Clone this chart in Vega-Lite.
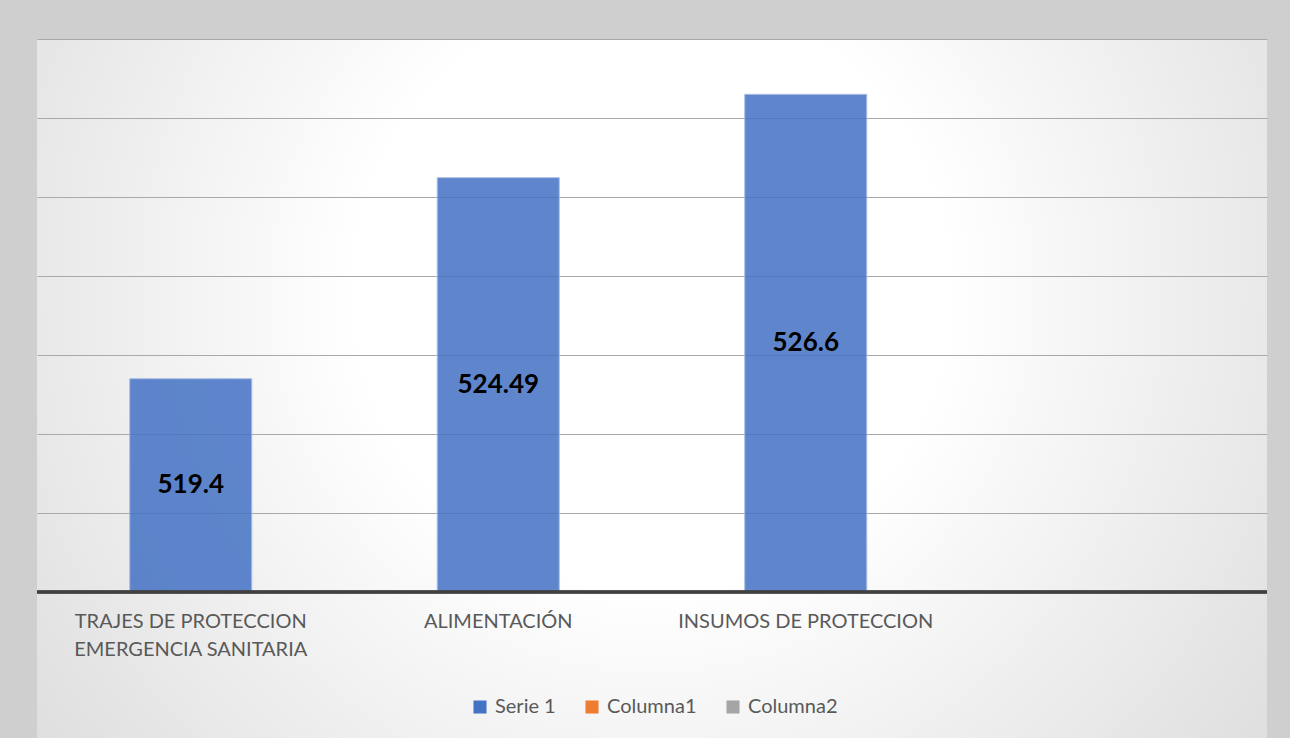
{
  "$schema": "https://vega.github.io/schema/vega-lite/v6.json",
  "width": 1230,
  "height": 699,
  "autosize": "none",
  "padding": {"left": 37, "top": 39, "right": 23, "bottom": 0},
  "background": "#cfcfcf",
  "config": {
    "font": "Lato",
    "view": {
      "stroke": null,
      "fill": {
        "gradient": "radial",
        "x1": 0.5, "y1": 0.42, "r1": 0,
        "x2": 0.5, "y2": 0.42, "r2": 0.8,
        "stops": [
          {"offset": 0, "color": "#ffffff"},
          {"offset": 0.3, "color": "#ffffff"},
          {"offset": 1, "color": "#cfcfcf"}
        ]
      }
    }
  },
  "data": {
    "values": [
      {"categoria": "TRAJES DE PROTECCION EMERGENCIA SANITARIA", "serie": "Serie 1", "valor": 519.4},
      {"categoria": "ALIMENTACIÓN", "serie": "Serie 1", "valor": 524.49},
      {"categoria": "INSUMOS DE PROTECCION", "serie": "Serie 1", "valor": 526.6}
    ]
  },
  "transform": [{"calculate": "(datum.valor + 514) / 2", "as": "medio"}],
  "layer": [
    {
      "mark": {"type": "bar", "opacity": 0.85, "stroke": "#9fb7e3", "strokeWidth": 1},
      "encoding": {
        "x": {
          "field": "categoria",
          "type": "nominal",
          "sort": null,
          "scale": {
            "domain": ["TRAJES DE PROTECCION EMERGENCIA SANITARIA", "ALIMENTACIÓN", "INSUMOS DE PROTECCION", " "],
            "paddingInner": 0.603,
            "paddingOuter": 0.3015
          },
          "axis": {
            "title": null,
            "labelAngle": 0,
            "ticks": false,
            "domain": false,
            "offset": -146,
            "labelPadding": 19,
            "labelFontSize": 20,
            "labelColor": "#595959",
            "labelLineHeight": 28,
            "labelLimit": 500,
            "labelExpr": "datum.value == 'TRAJES DE PROTECCION EMERGENCIA SANITARIA' ? ['TRAJES DE PROTECCION', 'EMERGENCIA SANITARIA'] : datum.value"
          }
        },
        "y": {
          "field": "valor",
          "type": "quantitative",
          "scale": {"domain": [510.304, 528], "nice": false, "zero": false},
          "axis": {
            "title": null,
            "values": [516, 518, 520, 522, 524, 526, 528],
            "labels": false,
            "ticks": false,
            "domain": false,
            "grid": true,
            "gridColor": "#a9a9a9",
            "gridWidth": 1
          }
        },
        "y2": {"datum": 514},
        "color": {
          "field": "serie",
          "type": "nominal",
          "scale": {"domain": ["Serie 1", "Columna1", "Columna2"], "range": ["#4472C4", "#ED7D31", "#A5A5A5"]},
          "legend": {
            "orient": "none",
            "legendX": 433,
            "legendY": 658,
            "direction": "horizontal",
            "title": null,
            "padding": 0,
            "symbolType": "square",
            "symbolSize": 170,
            "symbolOpacity": 1,
            "symbolStrokeWidth": 0,
            "labelFontSize": 20,
            "labelColor": "#595959",
            "labelOffset": 5,
            "columnPadding": 26
          }
        }
      }
    },
    {
      "mark": {"type": "text", "fontSize": 26, "fontWeight": "bold", "color": "#000000"},
      "encoding": {
        "x": {"field": "categoria", "type": "nominal", "sort": null},
        "y": {"field": "medio", "type": "quantitative"},
        "text": {"field": "valor", "type": "nominal"}
      }
    },
    {
      "mark": {"type": "rule", "color": "#404040", "strokeWidth": 3},
      "encoding": {"y": {"datum": 514}}
    }
  ]
}
